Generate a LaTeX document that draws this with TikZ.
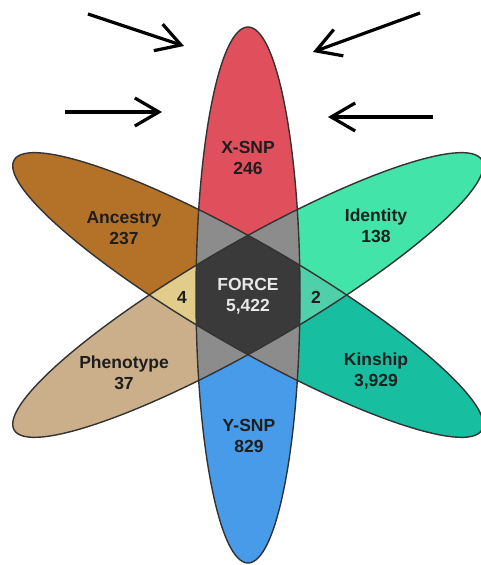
\documentclass[tikz,border=0pt]{standalone}
\usepackage{fontspec}
\setmainfont{Liberation Sans}
\usetikzlibrary{arrows.meta}
\definecolor{xsnpred}{HTML}{E0505C}
\definecolor{ysnpblue}{HTML}{489BE8}
\definecolor{ancestrybrown}{HTML}{B47228}
\definecolor{phenotypetan}{HTML}{CAAF8A}
\definecolor{identitygreen}{HTML}{42E4AA}
\definecolor{kinshipteal}{HTML}{18BEA0}
\definecolor{overlapgray}{HTML}{8C8C8C}
\definecolor{fourgold}{HTML}{E2CC8C}
\definecolor{twoteal}{HTML}{50D0AA}
\definecolor{forcecore}{HTML}{3A3A3A}
\definecolor{forcerim}{HTML}{727272}
\definecolor{forcetext}{HTML}{E8E8E8}
\definecolor{petaledge}{HTML}{333333}
\definecolor{tallytext}{HTML}{1E1E1E}
\pgfdeclareradialshading{forceglow}{\pgfpoint{0bp}{0bp}}{color(0bp)=(forcecore); color(32bp)=(forcecore); color(46bp)=(forcerim); color(50bp)=(forcerim)}

\begin{document}
\begin{tikzpicture}[x=1pt, y=1pt,
  petal/.style={draw=petaledge, line width=1.4pt},
  tally/.style={font=\fontsize{17.5}{21.5}\selectfont\bfseries, text=tallytext, align=center, inner sep=0pt},
  pointer/.style={-{Straight Barb[length=24pt, width=28pt]}, line width=3.2pt}]
  \useasboundingbox[fill=white] (0,0) rectangle (480,565);
  \coordinate (hub) at (248,270);
  \fill[xsnpred] (300,270) arc[start angle=0, end angle=180, x radius=52, y radius=268] -- cycle;
  \fill[ysnpblue] (300,270) arc[start angle=0, end angle=-180, x radius=52, y radius=268] -- cycle;
  \begin{scope}[shift={(hub)}, rotate=-30]
    \fill[ancestrybrown] (0,52) arc[start angle=90, end angle=270, x radius=270, y radius=52] -- cycle;
    \fill[kinshipteal] (0,52) arc[start angle=90, end angle=-90, x radius=270, y radius=52] -- cycle;
  \end{scope}
  \begin{scope}[shift={(hub)}, rotate=30]
    \fill[phenotypetan] (0,52) arc[start angle=90, end angle=270, x radius=270, y radius=52] -- cycle;
    \fill[identitygreen] (0,52) arc[start angle=90, end angle=-90, x radius=270, y radius=52] -- cycle;
  \end{scope}
  \begin{scope}
    \clip[shift={(hub)}, rotate=-30] (0,0) ellipse [x radius=270, y radius=52];
    \clip[shift={(hub)}, rotate=30] (0,0) ellipse [x radius=270, y radius=52];
    \fill[fourgold] (0,0) rectangle (248,565);
    \fill[twoteal] (248,0) rectangle (480,565);
  \end{scope}
  \begin{scope}
    \clip (hub) ellipse [x radius=52, y radius=268];
    \fill[overlapgray, shift={(hub)}, rotate=-30] (0,0) ellipse [x radius=270, y radius=52];
    \fill[overlapgray, shift={(hub)}, rotate=30] (0,0) ellipse [x radius=270, y radius=52];
    \clip[shift={(hub)}, rotate=-30] (0,0) ellipse [x radius=270, y radius=52];
    \clip[shift={(hub)}, rotate=30] (0,0) ellipse [x radius=270, y radius=52];
    \shade[shading=forceglow] (hub) circle (62);
  \end{scope}
  \draw[petal] (hub) ellipse [x radius=52, y radius=268];
  \draw[petal, shift={(hub)}, rotate=-30] (0,0) ellipse [x radius=270, y radius=52];
  \draw[petal, shift={(hub)}, rotate=30] (0,0) ellipse [x radius=270, y radius=52];
  \node[tally] (xsnp) at (248,407) {X-SNP\\246};
  \node[tally] (ancestry) at (124,337) {Ancestry\\237};
  \node[tally] (identity) at (376,339) {Identity\\138};
  \node[tally, text=forcetext] (force) at (248,269) {FORCE\\5,422};
  \node[tally] (four) at (182,268) {4};
  \node[tally] (two) at (316,268) {2};
  \node[tally] (phenotype) at (124,192) {Phenotype\\37};
  \node[tally] (kinship) at (376,194) {Kinship\\3,929};
  \node[tally] (ysnp) at (249,129) {Y-SNP\\829};
  \coordinate (tailnw) at (88,551);
  \coordinate (tipnw) at (184,519);
  \coordinate (tailne) at (420,552);
  \coordinate (tipne) at (313,513);
  \coordinate (tailw) at (65,453);
  \coordinate (tipw) at (162,453);
  \coordinate (taile) at (433,448);
  \coordinate (tipe) at (328,448);
  \draw[pointer] (tailnw) -- (tipnw);
  \draw[pointer] (tailne) -- (tipne);
  \draw[pointer] (tailw) -- (tipw);
  \draw[pointer] (taile) -- (tipe);
\end{tikzpicture}
\end{document}
